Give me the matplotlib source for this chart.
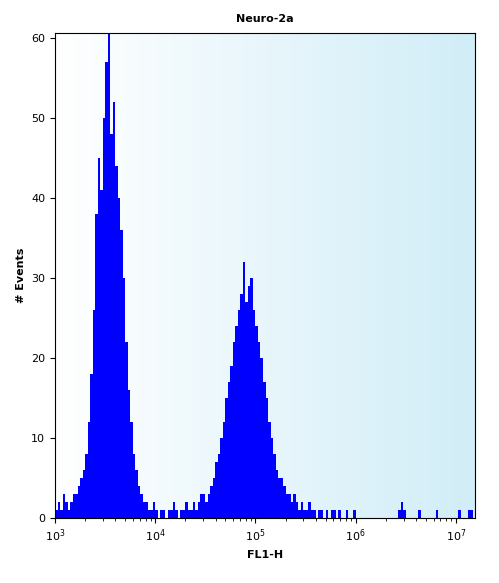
import matplotlib
matplotlib.use("Agg")
import matplotlib.pyplot as plt
import numpy as np

# histogram: log10 bin start and width (decades), counts per bin
bin_start = 3.0
bin_width = 0.025
counts = [1, 2, 1, 3, 2, 1, 2, 3,
          3, 4, 5, 6,
          8, 12, 18, 26,
          38, 45, 41, 50,
          57, 61, 48, 52,
          44, 40, 36, 30,
          22, 16, 12, 8,
          6, 4, 3, 2,
          2, 1, 1, 2, 1, 0, 1, 1, 0, 1, 1, 2, 1, 0, 1, 1, 2, 1, 1, 2, 1, 2, 3, 3, 2, 3,
          4, 5, 7, 8,
          10, 12, 15, 17,
          19, 22, 24, 26,
          28, 32, 27, 29,
          30, 26, 24, 22,
          20, 17, 15, 12,
          10, 8, 6, 5,
          5, 4, 3, 3,
          2, 3, 2, 1, 2, 1, 1, 2,
          1, 1, 0, 1, 1, 0, 1, 0, 1, 1, 0, 1, 0, 0, 1, 0, 0, 1, 0, 0,
          0, 0, 0, 0, 0, 0, 0, 0, 0, 0, 0, 0, 0, 0, 0, 1, 2, 1, 0,
          0, 0, 0, 0, 1, 0, 0, 0, 0, 0, 0, 1, 0, 0, 0, 0, 0, 0, 0, 0, 1, 0, 0, 0, 1, 1]
edges = 10 ** (bin_start + bin_width * np.arange(len(counts) + 1))

fig = plt.figure(figsize=(4.99, 5.83), dpi=100)
ax = fig.add_axes([55 / 499, 1 - 518 / 583, 420 / 499, 485 / 583])

# white -> light cyan background
grad = np.linspace(0, 1, 256)[None, :, None]
c0 = np.array([1.0, 1.0, 1.0])
c1 = np.array([0.82, 0.93, 0.97])
img = c0 + (c1 - c0) * grad
ax.imshow(img, extent=[0, 1, 0, 1], transform=ax.transAxes, aspect="auto", zorder=0)

ax.stairs(counts, edges, fill=True, color="#0000ff", zorder=2)
ax.set_xscale("log")
ax.set_xlim(1e3, 10 ** 7.19)
ax.set_ylim(0, 60.6)
ax.set_yticks([0, 10, 20, 30, 40, 50, 60])
ax.tick_params(labelsize=8)
ax.set_xlabel("FL1-H", fontsize=8, fontweight="bold")
ax.set_ylabel("# Events", fontsize=8, fontweight="bold")
ax.set_title("Neuro-2a", fontsize=8, fontweight="bold", pad=8)

fig.savefig("out.png", dpi=100)
